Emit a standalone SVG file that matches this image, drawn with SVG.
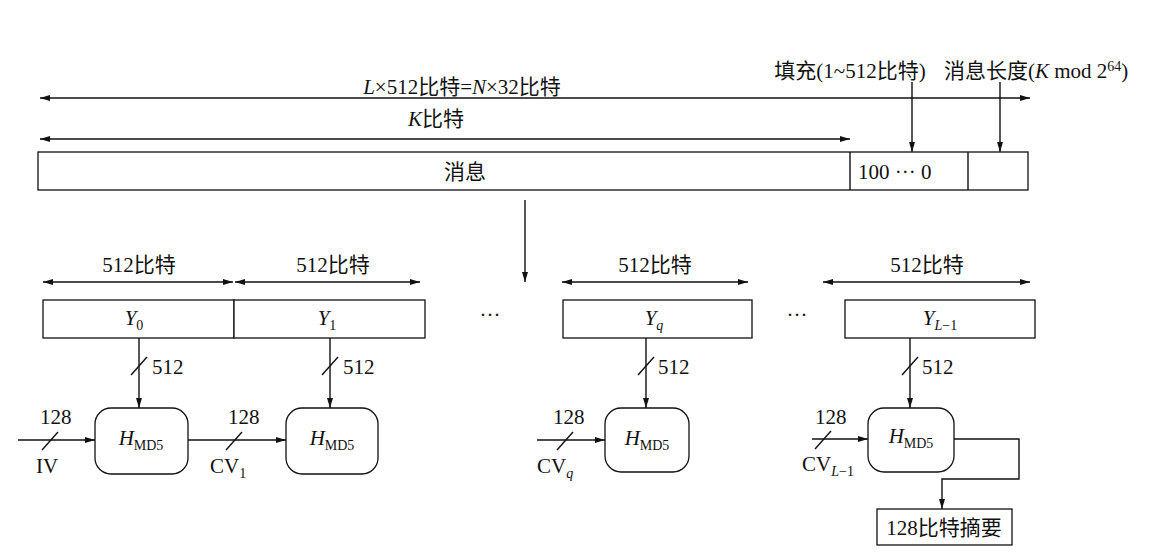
<svg xmlns="http://www.w3.org/2000/svg" width="1149" height="557" viewBox="0 0 1149 557">
<style>
text{font-family:"Liberation Serif","Noto Sans CJK SC",serif;font-size:21px;fill:#111}
.c{text-anchor:middle}
.i{font-style:italic}
.s{font-size:14px}
.b{fill:#fff;stroke:#111;stroke-width:1.3}
.l{stroke:#111;stroke-width:1.4;fill:none}
</style>
<defs><marker id="a" viewBox="0 0 10 6" refX="10" refY="3" markerWidth="12" markerHeight="6" orient="auto-start-reverse" markerUnits="userSpaceOnUse"><path d="M0,0L10,3L0,6z" fill="#111"/></marker></defs>
<g id="msg"><rect class="b" x="38" y="152" width="990" height="38"/><line class="l" x1="850" y1="152" x2="850" y2="190"/><line class="l" x1="968" y1="152" x2="968" y2="190"/>
<text class="c" x="465" y="179">消息</text><text x="858" y="179">100  ···  0</text></g>
<g id="y0"><rect class="b" x="43" y="300" width="191" height="38"/><text class="c i" x="134" y="325">Y<tspan class="s" dy="5" font-style="normal">0</tspan></text></g>
<g id="y1"><rect class="b" x="234" y="300" width="191" height="38"/><text class="c i" x="327" y="325">Y<tspan class="s" dy="5" font-style="normal">1</tspan></text></g>
<g id="yq"><rect class="b" x="563" y="300" width="189" height="38"/><text class="c i" x="654" y="325">Y<tspan class="s" dy="5">q</tspan></text></g>
<g id="yl"><rect class="b" x="845" y="300" width="190" height="38"/><text class="c i" x="940" y="325">Y<tspan class="s" dy="5">L</tspan><tspan class="s" font-style="normal">−1</tspan></text></g>
<g id="h0"><rect class="b" x="95" y="408" width="93" height="66" rx="16"/><text class="c i" x="141" y="445">H<tspan class="s" dy="5" font-style="normal">MD5</tspan></text></g>
<g id="h1"><rect class="b" x="286" y="408" width="92" height="66" rx="16"/><text class="c i" x="332" y="445">H<tspan class="s" dy="5" font-style="normal">MD5</tspan></text></g>
<g id="hq"><rect class="b" x="605" y="408" width="84" height="64" rx="16"/><text class="c i" x="647" y="445">H<tspan class="s" dy="5" font-style="normal">MD5</tspan></text></g>
<g id="hl"><rect class="b" x="868" y="408" width="86" height="64" rx="16"/><text class="c i" x="911" y="443">H<tspan class="s" dy="5" font-style="normal">MD5</tspan></text></g>
<g id="out"><rect class="b" x="877" y="509" width="135" height="36"/><text class="c" x="944" y="535">128比特摘要</text></g>
<g id="connectors">
<line class="l" x1="40" y1="98" x2="1030" y2="98" marker-start="url(#a)" marker-end="url(#a)"/>
<line class="l" x1="40" y1="139" x2="850" y2="139" marker-start="url(#a)" marker-end="url(#a)"/>
<line class="l" x1="912" y1="82" x2="912" y2="152" marker-end="url(#a)"/>
<line class="l" x1="1000" y1="82" x2="1000" y2="152" marker-end="url(#a)"/>
<line class="l" x1="525" y1="200" x2="525" y2="282" marker-end="url(#a)"/>
<line class="l" x1="43" y1="282" x2="233" y2="282" marker-start="url(#a)" marker-end="url(#a)"/>
<line class="l" x1="235" y1="282" x2="420" y2="282" marker-start="url(#a)" marker-end="url(#a)"/>
<line class="l" x1="562" y1="282" x2="748" y2="282" marker-start="url(#a)" marker-end="url(#a)"/>
<line class="l" x1="823" y1="282" x2="1030" y2="282" marker-start="url(#a)" marker-end="url(#a)"/>
<line class="l" x1="139" y1="338" x2="139" y2="408" marker-end="url(#a)"/><line class="l" x1="131" y1="375" x2="147" y2="357"/>
<line class="l" x1="330" y1="338" x2="330" y2="408" marker-end="url(#a)"/><line class="l" x1="322" y1="375" x2="338" y2="357"/>
<line class="l" x1="646" y1="338" x2="646" y2="408" marker-end="url(#a)"/><line class="l" x1="638" y1="375" x2="654" y2="357"/>
<line class="l" x1="910" y1="338" x2="910" y2="408" marker-end="url(#a)"/><line class="l" x1="902" y1="375" x2="918" y2="357"/>
<line class="l" x1="18" y1="440" x2="95" y2="440" marker-end="url(#a)"/><line class="l" x1="42" y1="450" x2="58" y2="432"/>
<line class="l" x1="188" y1="440" x2="286" y2="440" marker-end="url(#a)"/><line class="l" x1="226" y1="450" x2="242" y2="432"/>
<line class="l" x1="537" y1="440" x2="605" y2="440" marker-end="url(#a)"/><line class="l" x1="557" y1="450" x2="573" y2="432"/>
<line class="l" x1="812" y1="439" x2="868" y2="439" marker-end="url(#a)"/><line class="l" x1="815" y1="449" x2="831" y2="431"/>
<polyline class="l" points="954,439 1019,439 1019,479 942,479 942,509" marker-end="url(#a)"/>
</g>
<g id="labels">
<text class="c" x="462" y="94"><tspan class="i">L</tspan>×512比特=<tspan class="i">N</tspan>×32比特</text>
<text class="c" x="436" y="126"><tspan class="i">K</tspan>比特</text>
<text class="c" x="850" y="78">填充(1~512比特)</text>
<text x="944" y="78">消息长度(<tspan class="i">K</tspan> mod 2<tspan class="s" dy="-7">64</tspan><tspan dy="7">)</tspan></text>
<text class="c" x="139" y="272">512比特</text><text class="c" x="333" y="272">512比特</text>
<text class="c" x="655" y="272">512比特</text><text class="c" x="927" y="272">512比特</text>
<text x="152" y="374">512</text><text x="343" y="374">512</text><text x="658" y="374">512</text><text x="922" y="374">512</text>
<text x="40" y="424">128</text><text x="228" y="424">128</text><text x="553" y="424">128</text><text x="815" y="424">128</text>
<text x="36" y="473">IV</text><text x="210" y="473">CV<tspan class="s" dy="5">1</tspan></text>
<text x="537" y="473">CV<tspan class="s i" dy="5">q</tspan></text><text x="802" y="471">CV<tspan class="s i" dy="5">L</tspan><tspan class="s">−1</tspan></text>
<text class="c" x="490" y="322">···</text><text class="c" x="797" y="322">···</text>
</g>
</svg>
